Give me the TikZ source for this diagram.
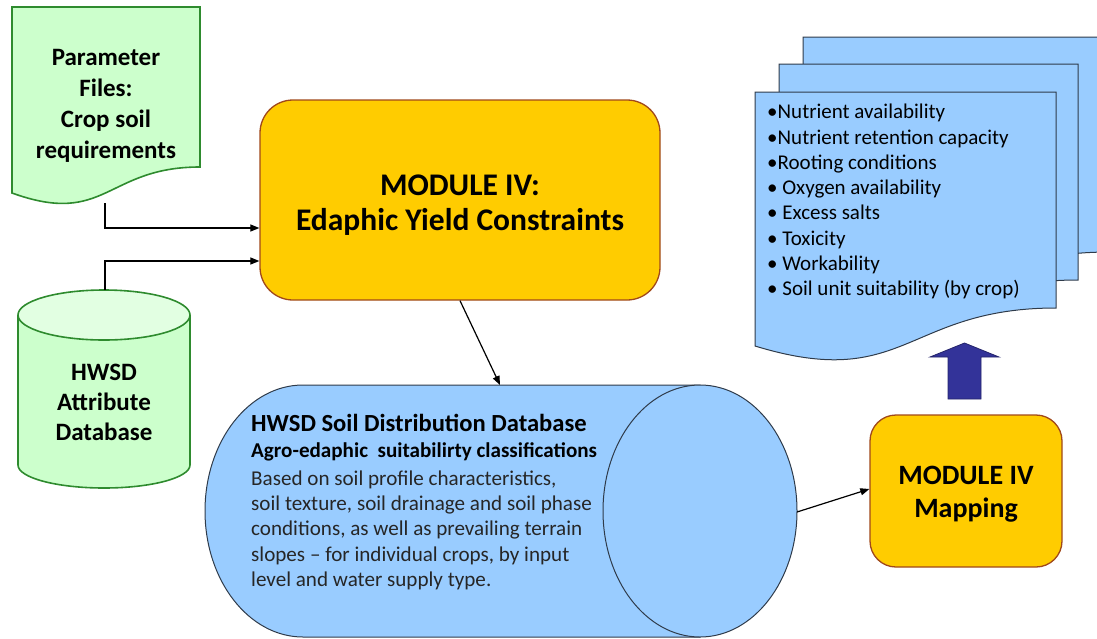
\documentclass[tikz,border=0pt]{standalone}
\usepackage{fontspec}
\setmainfont{Carlito}
\usetikzlibrary{arrows.meta}
\definecolor{gfill}{HTML}{CCFFCC}
\definecolor{gtop}{HTML}{E2FFE2}
\definecolor{gline}{HTML}{2E8B2E}
\definecolor{yfill}{HTML}{FFCC00}
\definecolor{yline}{HTML}{A0481A}
\definecolor{bfill}{HTML}{99CCFF}
\definecolor{bline}{HTML}{2F3B4A}
\definecolor{aruf}{HTML}{333399}
\tikzset{
  gshape/.style={draw=gline, fill=gfill, line width=1.6pt},
  bshape/.style={draw=bline, fill=bfill, line width=1pt},
  ybox/.style={draw=yline, fill=yfill, line width=1.3pt, rounded corners=#1, inner sep=0pt},
  arr/.style={line width=1.2pt, -{Triangle[length=9pt,width=7pt]}},
  lbl/.style={inner sep=0pt, align=center, font=\bfseries},
}
\begin{document}
\begin{tikzpicture}[x=1pt,y=-1pt]
\useasboundingbox (0,0) rectangle (1097,638);

% ---- Parameter file document
\draw[gshape] (12,7) -- (200,7) -- (200,167) .. controls (106,167) and (106,227) .. (12,193) -- cycle;
\node[lbl, font=\bfseries\fontsize{25}{31}\selectfont] (pf) at (106,106) {Parameter\\Files:\\Crop soil\\requirements};
\coordinate (pfout) at (105,203);

% ---- HWSD attribute cylinder
\draw[gshape] (18,315) -- (18,465) .. controls (18,477.7) and (56.5,488) .. (104,488) .. controls (151.5,488) and (190,477.7) .. (190,465) -- (190,315);
\draw[gshape, fill=gtop] (104,315) ellipse [x radius=86pt, y radius=25pt];
\node[lbl, font=\bfseries\fontsize{25}{30}\selectfont] (hwsd) at (104,402) {HWSD\\Attribute\\Database};
\coordinate (hwout) at (105,290);

% ---- Module IV box
\node[ybox=33pt, minimum width=400pt, minimum height=200pt] (mod) at (460,200) {};
\node[lbl, font=\bfseries\fontsize{31.5}{35}\selectfont] (modtxt) at (460,205) {MODULE IV:\\Edaphic Yield Constraints};

\draw[arr] (pfout) |- ([yshift=-28pt]mod.west);
\draw[arr] (hwout) |- ([yshift=-61pt]mod.west);

% ---- Big horizontal cylinder
\draw[bshape] (700,385) -- (303,385) .. controls (248.9,385) and (205,441.4) .. (205,511) .. controls (205,580.6) and (248.9,637) .. (303,637) -- (700,637) -- cycle;
\draw[bshape] (700,511) ellipse [x radius=97pt, y radius=126pt];
\coordinate (cyltop) at (500,385);
\coordinate (cylout) at (797,512);
\node[inner sep=0pt, anchor=north west, align=left, text=black!85, font=\fontsize{21.1}{25.1}\selectfont] (soil) at (251,414)
 {{\bfseries\color{black}\fontsize{24.6}{25.6}\selectfont HWSD Soil Distribution Database}\\[1pt]
  {\bfseries\color{black}Agro-edaphic\ \ suitabilirty classifications}\\[3pt]
  Based on soil profile characteristics,\\
  soil texture, soil drainage and soil phase\\
  conditions, as well as prevailing terrain\\
  slopes -- for individual crops, by input\\
  level and water supply type.};

\draw[arr] (mod.south) -- (cyltop);

% ---- Mapping box
\node[ybox=26pt, minimum width=192pt, minimum height=152pt] (map) at (966,491) {};
\node[lbl, font=\bfseries\fontsize{28}{33}\selectfont] (maptxt) at (966,494) {MODULE IV\\Mapping};
\draw[arr] (cylout) -- ([yshift=2pt]map.west);

% ---- Stacked documents
\draw[bshape] (803,37) -- (1110,37) -- (1110,252) .. controls (956,252) and (956,334) .. (803,289) -- cycle;
\draw[bshape] (779,64) -- (1078,64) -- (1078,280) .. controls (928,280) and (928,362) .. (779,317) -- cycle;
\draw[bshape] (755,92) -- (1056,92) -- (1056,308) .. controls (905.5,308) and (905.5,392) .. (755,346) -- cycle;
\node[inner sep=0pt, anchor=north west, align=left, font=\fontsize{21}{25.3}\selectfont] (list) at (767,104)
 {•Nutrient availability\\
  •Nutrient retention capacity\\
  •Rooting conditions\\
  • Oxygen availability\\
  • Excess salts\\
  • Toxicity\\
  • Workability\\
  • Soil unit suitability (by crop)};

% ---- Blue up arrow
\draw[draw=aruf!70!black, fill=aruf, line width=0.8pt] (948,399) -- (948,357) -- (930,357) -- (964.5,343) -- (999,357) -- (981,357) -- (981,399) -- cycle;
\coordinate (upa) at (964.5,343);
\end{tikzpicture}
\end{document}
